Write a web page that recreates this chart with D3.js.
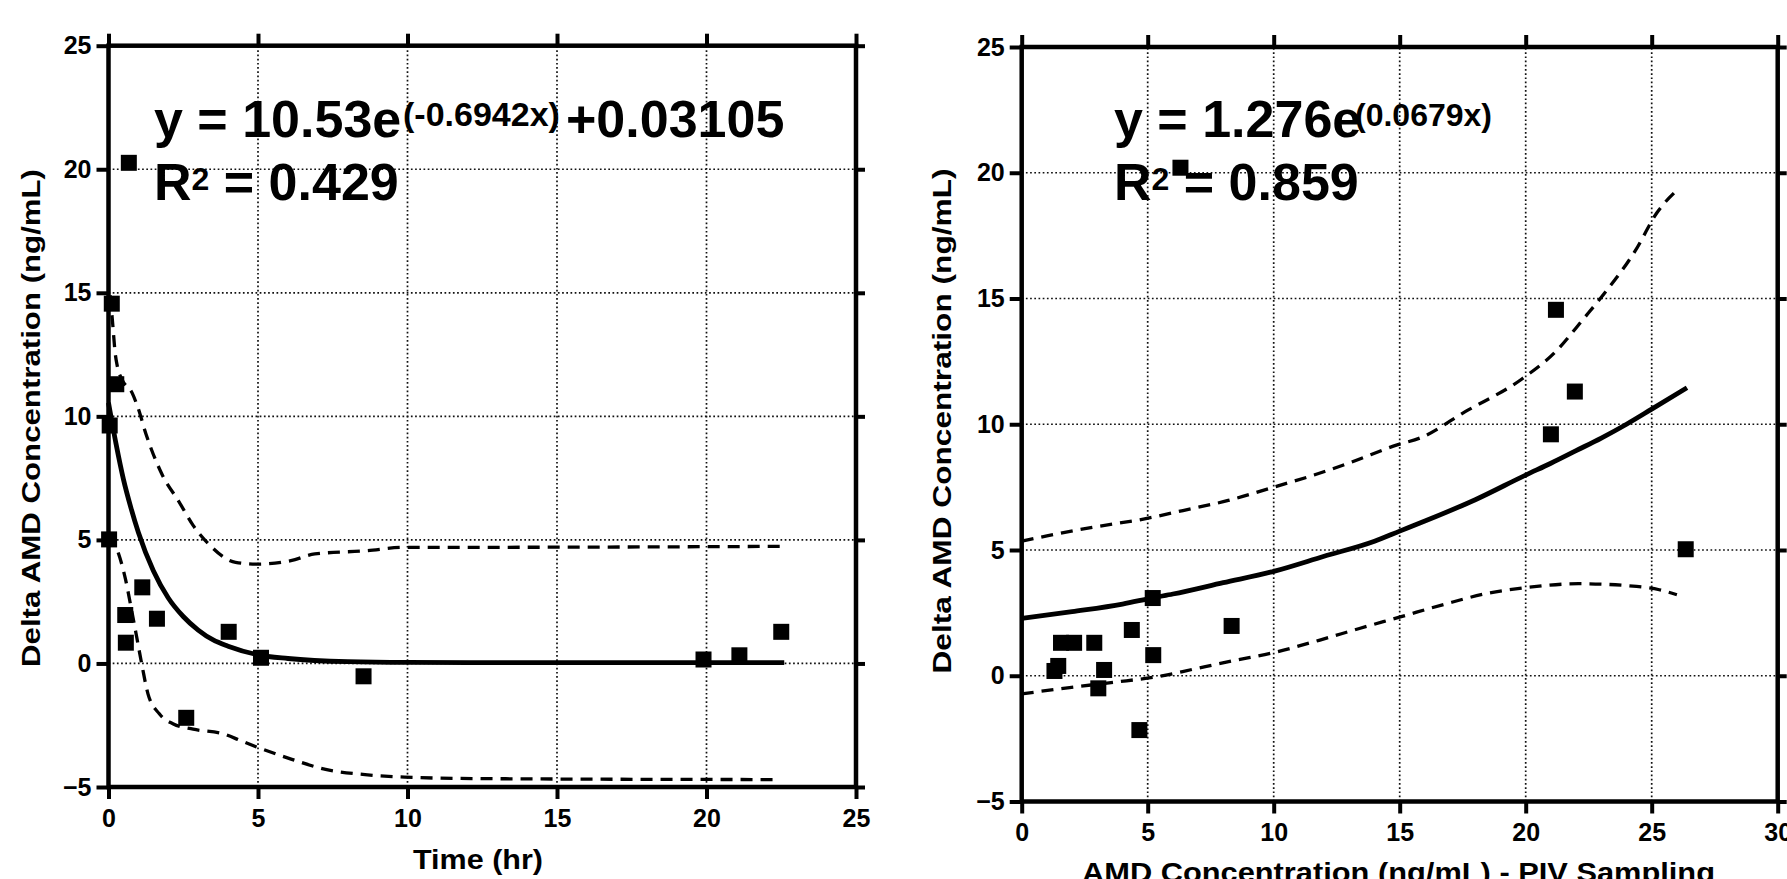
<!DOCTYPE html>
<html><head><meta charset="utf-8">
<script src="https://cdn.jsdelivr.net/npm/d3@7"></script>
<style>body{margin:0;background:#fff;} svg{display:block;}</style>
</head><body>
<svg id="chart" width="1787" height="879"></svg>
<script>
// ---------- Left panel: Delta AMD vs Time ----------
const leftPtsX = [0.68, 0.11, 0.26, 0.04, 0.02, 0.56, 0.58, 1.13, 1.62, 2.6, 4.02, 5.1, 8.53, 19.9, 21.1, 22.5];
const leftPtsY = [20.26, 14.56, 11.3, 9.63, 5.02, 1.96, 0.84, 3.08, 1.81, -2.2, 1.28, 0.23, -0.52, 0.16, 0.33, 1.28];

const leftFitX = [0, 0.25, 0.5, 0.75, 1, 1.5, 2, 2.5, 3, 3.5, 4, 5, 6, 8, 10, 15, 22.6];
const leftFitY = [10.55, 8.9, 7.45, 6.3, 5.3, 3.75, 2.65, 1.9, 1.35, 0.95, 0.7, 0.35, 0.2, 0.07, 0.04, 0.03, 0.03];

const leftUpX = [0.06, 0.15, 0.22, 0.3, 0.45, 0.79, 1.0, 1.25, 1.8, 2.36, 2.83, 3.4, 4.25, 5.0, 6.1, 6.9, 8.6, 9.9, 12, 22.55];
const leftUpY = [14.9, 13.6, 12.6, 12.0, 11.5, 10.95, 10.3, 9.3, 7.63, 6.54, 5.59, 4.77, 4.09, 4.02, 4.16, 4.43, 4.56, 4.7, 4.7, 4.74];

const leftLoX = [0.02, 0.28, 0.57, 0.75, 0.94, 1.13, 1.32, 1.7, 2.17, 2.83, 3.87, 4.43, 5.0, 6.13, 7.26, 8.58, 9.9, 12.4, 22.4];
const leftLoY = [5.2, 4.63, 3.4, 2.3, 1.09, -0.14, -1.23, -2.04, -2.45, -2.66, -2.86, -3.13, -3.4, -3.88, -4.29, -4.5, -4.6, -4.66, -4.7];

const leftXTicks = [0, 5, 10, 15, 20, 25];

// ---------- Right panel: Delta AMD vs AMD (PIV) ----------
const rightPtsX = [1.3, 1.45, 1.56, 2.08, 2.88, 3.04, 3.27, 4.37, 4.67, 5.2, 5.22, 6.3, 8.33, 21.0, 21.2, 21.95, 26.35];
const rightPtsY = [0.19, 0.39, 1.31, 1.31, 1.31, -0.5, 0.23, 1.82, -2.16, 3.09, 0.82, 20.2, 1.98, 9.6, 14.55, 11.3, 5.03];

const rightFitX = [0, 2, 4, 5.2, 6, 8, 10, 12, 14, 15, 16, 18, 20, 21, 22, 23, 24, 25, 26.4];
const rightFitY = [2.28, 2.55, 2.85, 3.1, 3.25, 3.7, 4.15, 4.75, 5.35, 5.75, 6.15, 7.0, 7.98, 8.45, 8.95, 9.45, 10.0, 10.6, 11.45];

const rightUpX = [0, 1.0, 2.8, 4.83, 6.4, 8.2, 10, 11.6, 13.1, 14.9, 15.8, 17.6, 19.85, 21.2, 22.3, 23.2, 24.35, 25.2, 26.1];
const rightUpY = [5.35, 5.56, 5.9, 6.23, 6.57, 6.97, 7.5, 7.98, 8.5, 9.18, 9.45, 10.5, 11.8, 12.9, 14.2, 15.3, 16.9, 18.4, 19.4];

const rightLoX = [0, 1.9, 4.16, 5.5, 6.85, 8.4, 10, 11.8, 13.4, 15.06, 16.7, 18.5, 19.9, 22.1, 24.4, 25.3, 26.0];
const rightLoY = [-0.72, -0.47, -0.2, -0.02, 0.27, 0.6, 0.92, 1.41, 1.88, 2.35, 2.82, 3.28, 3.49, 3.66, 3.55, 3.42, 3.22];

const rightXTicks = [0, 5, 10, 15, 20, 25, 30];
const yTicks = [-5, 0, 5, 10, 15, 20, 25];

const yTitle = "Delta AMD Concentration (ng/mL)";
const leftXTitle = "Time (hr)";
const rightXTitle = "AMD Concentration (ng/mL) - PIV Sampling";

const FONT = "'Liberation Sans', Arial, sans-serif";
const svg = d3.select('#chart');
svg.append('rect').attr('width', 1787).attr('height', 879).attr('fill', '#fff');

function zip(a, b) { return a.map((v, i) => [v, b[i]]); }

function panel(cfg) {
  const x = d3.scaleLinear().domain([cfg.xTicks[0], cfg.xTicks[cfg.xTicks.length - 1]]).range([cfg.x0, cfg.x1]);
  const y = d3.scaleLinear().domain([-5, 25]).range([cfg.yB, cfg.yT]);
  const g = svg.append('g');

  // grid
  g.selectAll('.vg').data(cfg.xTicks.slice(1, -1)).join('line')
    .attr('x1', d => x(d)).attr('x2', d => x(d)).attr('y1', y(-5)).attr('y2', y(25))
    .attr('stroke', '#111').attr('stroke-width', 1.7).attr('stroke-dasharray', '1.7,2.5');
  g.selectAll('.hg').data(yTicks.slice(1, -1)).join('line')
    .attr('y1', d => y(d)).attr('y2', d => y(d)).attr('x1', x.range()[0]).attr('x2', x.range()[1])
    .attr('stroke', '#111').attr('stroke-width', 1.7).attr('stroke-dasharray', '1.7,2.5');

  // axes
  const styleAxis = (sel, labels) => {
    sel.select('.domain').remove();
    sel.selectAll('.tick line').attr('stroke', '#000').attr('stroke-width', 4);
    sel.selectAll('.tick text').attr('fill', '#000').style('font-family', FONT)
      .style('font-size', '25px').style('font-weight', 'bold');
    if (!labels) sel.selectAll('.tick text').remove();
  };
  g.append('g').attr('transform', `translate(${x.range()[0]},0)`)
    .call(d3.axisLeft(y).tickValues(yTicks).tickSize(12).tickSizeOuter(0).tickPadding(5).tickFormat(d3.format('d')))
    .call(s => styleAxis(s, true));
  g.append('g').attr('transform', `translate(0,${y(-5)})`)
    .call(d3.axisBottom(x).tickValues(cfg.xTicks).tickSize(12).tickSizeOuter(0).tickPadding(10).tickFormat(d3.format('d')))
    .call(s => styleAxis(s, true));
  g.append('g').attr('transform', `translate(0,${y(25)})`)
    .call(d3.axisTop(x).tickValues(cfg.xTicks).tickSize(12).tickSizeOuter(0))
    .call(s => styleAxis(s, false));
  g.append('g').attr('transform', `translate(${x.range()[1]},0)`)
    .call(d3.axisRight(y).tickValues(yTicks).tickSize(9).tickSizeOuter(0))
    .call(s => styleAxis(s, false));

  // frame
  g.append('rect').attr('x', x.range()[0]).attr('y', y(25))
    .attr('width', x.range()[1] - x.range()[0]).attr('height', y(-5) - y(25))
    .attr('fill', 'none').attr('stroke', '#000').attr('stroke-width', 4.5);

  // curves
  const line = d3.line().x(d => x(d[0])).y(d => y(d[1])).curve(d3.curveMonotoneX);
  [cfg.up, cfg.lo].forEach(c => {
    g.append('path').attr('d', line(c)).attr('fill', 'none').attr('stroke', '#000')
      .attr('stroke-width', 3.3).attr('stroke-dasharray', '12,8');
  });
  g.append('path').attr('d', line(cfg.fit)).attr('fill', 'none').attr('stroke', '#000')
    .attr('stroke-width', 4.8).attr('stroke-linejoin', 'round');

  // markers
  const s = 16;
  g.selectAll('.pt').data(cfg.pts).join('rect')
    .attr('x', d => x(d[0]) - s / 2).attr('y', d => y(d[1]) - s / 2)
    .attr('width', s).attr('height', s).attr('fill', '#000');

  // equation
  const eq = g.append('text').attr('fill', '#000').style('font-family', FONT).style('font-weight', 'bold');
  eq.append('tspan').attr('x', cfg.eqX).attr('y', 137).style('font-size', '52px').text(cfg.eqMain);
  eq.append('tspan').attr('x', cfg.supX).attr('y', 126).style('font-size', cfg.supSize + 'px').text(cfg.eqSup);
  if (cfg.eqTail) eq.append('tspan').attr('x', cfg.tailX).attr('y', 137).style('font-size', '52px').text(cfg.eqTail);
  const r2 = g.append('text').attr('fill', '#000').attr('x', cfg.eqX).attr('y', 200)
    .style('font-family', FONT).style('font-weight', 'bold').style('font-size', '52px');
  r2.append('tspan').text('R');
  r2.append('tspan').attr('dy', -10).style('font-size', '32px').text('2');
  r2.append('tspan').attr('dy', 10).text(' = ' + cfg.r2);

  // titles
  g.append('text').attr('transform', `translate(${cfg.yTitleX},${cfg.yTitleY}) rotate(-90)`)
    .attr('text-anchor', 'middle').attr('textLength', cfg.yTitleLen).attr('lengthAdjust', 'spacingAndGlyphs')
    .style('font-family', FONT).style('font-size', '25px').style('font-weight', 'bold')
    .attr('fill', '#000').text(yTitle);
  g.append('text').attr('x', cfg.xTitleX).attr('y', cfg.xTitleY)
    .attr('text-anchor', 'middle').attr('textLength', cfg.xTitleLen).attr('lengthAdjust', 'spacingAndGlyphs')
    .style('font-family', FONT).style('font-size', '27px').style('font-weight', 'bold')
    .attr('fill', '#000').text(cfg.xTitle);
}

panel({
  xTicks: leftXTicks, x0: 108.5, x1: 856, yT: 45.7, yB: 787,
  pts: zip(leftPtsX, leftPtsY), fit: zip(leftFitX, leftFitY), up: zip(leftUpX, leftUpY), lo: zip(leftLoX, leftLoY),
  eqX: 154, eqMain: 'y = 10.53e', supX: 403, supSize: 34, eqSup: '(-0.6942x)', tailX: 566, eqTail: '+0.03105', r2: '0.429',
  yTitleX: 40, yTitleY: 418, yTitleLen: 498,
  xTitleX: 478, xTitleY: 869, xTitleLen: 130, xTitle: leftXTitle
});
panel({
  xTicks: rightXTicks, x0: 1021.7, x1: 1777.7, yT: 47, yB: 801.5,
  pts: zip(rightPtsX, rightPtsY), fit: zip(rightFitX, rightFitY), up: zip(rightUpX, rightUpY), lo: zip(rightLoX, rightLoY),
  eqX: 1114, eqMain: 'y = 1.276e', supX: 1355, supSize: 32, eqSup: '(0.0679x)', tailX: 0, eqTail: null, r2: '0.859',
  yTitleX: 951, yTitleY: 421, yTitleLen: 505,
  xTitleX: 1398.5, xTitleY: 882, xTitleLen: 633, xTitle: rightXTitle
});
</script>
</body></html>
